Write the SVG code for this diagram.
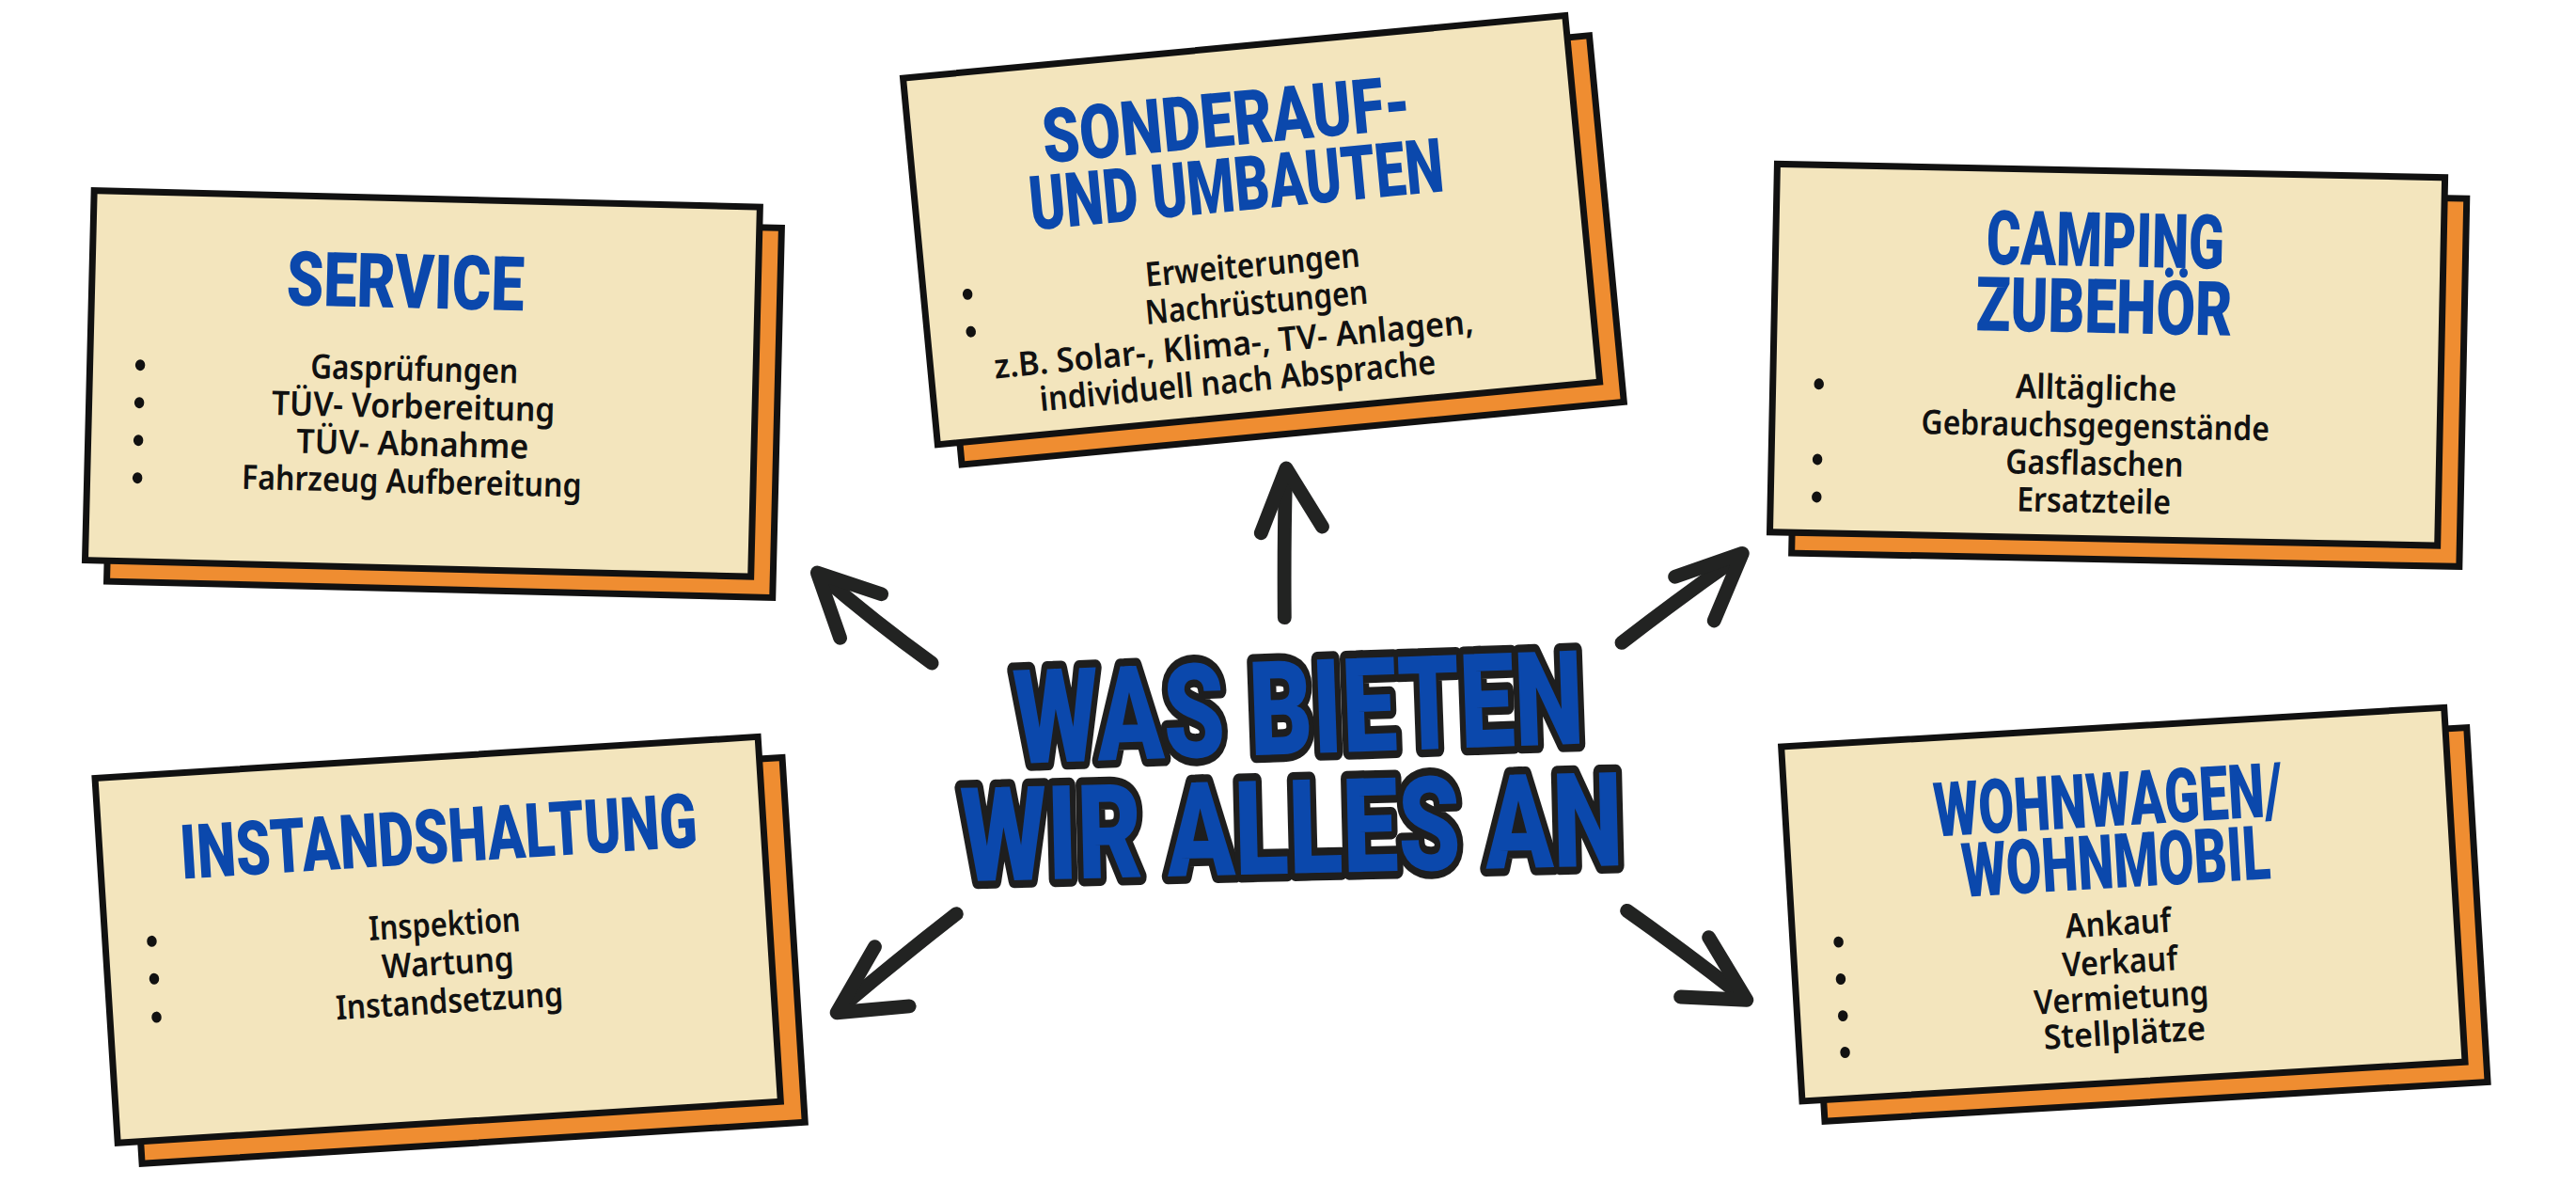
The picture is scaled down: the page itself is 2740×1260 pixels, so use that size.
<svg xmlns="http://www.w3.org/2000/svg" width="2740" height="1260" viewBox="0 0 2740 1260">
<style>
.back{fill:#EF8D31;stroke:#111;stroke-width:4;stroke-linejoin:miter}
.card{fill:#F3E5BD;stroke:#111;stroke-width:4;stroke-linejoin:miter}
.ttl{font-family:Roboto,"Liberation Sans",sans-serif;font-weight:900;font-size:46px;fill:#0B48AC;text-anchor:middle}
.itm{font-family:"Noto Sans","Liberation Sans",sans-serif;font-weight:600;font-size:20.5px;fill:#111;text-anchor:middle}
.dot{fill:#111}
.big{font-family:Roboto,"Liberation Sans",sans-serif;font-weight:900;font-size:80px;fill:#0B48AC;stroke:#1E1E1E;stroke-width:9.5;stroke-linejoin:round;paint-order:stroke;text-anchor:middle}
.arr{fill:none;stroke:#222322;stroke-width:8.5;stroke-linecap:round;stroke-linejoin:round}
</style>
<rect width="2740" height="1260" fill="#FFFFFF"/>
<g transform="scale(1.7474)">
<g id="connectors">
<path class="arr" d="M567.2,403.5 Q532,378 499.5,350"/>
<path class="arr" d="M536.6,361.5 L497.5,348.5 L511.4,388.2"/>
<path class="arr" d="M781.9,375.8 Q781.5,330 782.6,290"/>
<path class="arr" d="M767.6,324.3 L782.9,285 L804.9,320.5"/>
<path class="arr" d="M987.2,391.1 Q1022,364 1058,339"/>
<path class="arr" d="M1019.6,351 L1060.6,336.7 L1043.4,377.7"/>
<path class="arr" d="M582.2,556.1 Q545,585 512,613"/>
<path class="arr" d="M532.5,576.1 L509.4,616.2 L553.5,612.3"/>
<path class="arr" d="M990.4,554.2 Q1027,580 1060,606"/>
<path class="arr" d="M1040.2,570.4 L1063.2,608.5 L1023,606.6"/>
</g>
<g id="service" transform="translate(257.2,233.4) rotate(1.41)">
<rect class="back" x="-189.2" y="-100" width="405.4" height="225"/>
<rect class="card" x="-202.7" y="-112.5" width="405.4" height="225"/>
<text class="ttl" x="-11.9" y="-45.8" textLength="144.6" lengthAdjust="spacingAndGlyphs">SERVICE</text>
<text class="itm" x="-5.2" y="-1.6" textLength="126.5" lengthAdjust="spacingAndGlyphs">Gasprüfungen</text>
<text class="itm" x="-5.2" y="21.2" textLength="172.5" lengthAdjust="spacingAndGlyphs">TÜV- Vorbereitung</text>
<text class="itm" x="-5.2" y="44" textLength="141.3" lengthAdjust="spacingAndGlyphs">TÜV- Abnahme</text>
<text class="itm" x="-5.2" y="66.8" textLength="207" lengthAdjust="spacingAndGlyphs">Fahrzeug Aufbereitung</text>
<ellipse class="dot" cx="-172.1" cy="-7" rx="3" ry="3.4"/>
<ellipse class="dot" cx="-172.1" cy="15.9" rx="3" ry="3.4"/>
<ellipse class="dot" cx="-172.1" cy="38.8" rx="3" ry="3.4"/>
<ellipse class="dot" cx="-172.1" cy="61.7" rx="3" ry="3.4"/>
</g>
<g id="sonderauf" transform="translate(761.75,140) rotate(-5.4)">
<rect class="back" x="-188.9" y="-98.5" width="404.8" height="224"/>
<rect class="card" x="-202.4" y="-112" width="404.8" height="224"/>
<text class="ttl" x="-8.9" y="-52.4" textLength="225" lengthAdjust="spacingAndGlyphs">SONDERAUF-</text>
<text class="ttl" x="-6.6" y="-12.5" textLength="253" lengthAdjust="spacingAndGlyphs">UND UMBAUTEN</text>
<text class="itm" x="-1.4" y="28.3" textLength="131" lengthAdjust="spacingAndGlyphs">Erweiterungen</text>
<text class="itm" x="-1.1" y="51.2" textLength="136" lengthAdjust="spacingAndGlyphs">Nachrüstungen</text>
<text class="itm" x="-17.3" y="75.2" textLength="293" lengthAdjust="spacingAndGlyphs">z.B. Solar-, Klima-, TV- Anlagen,</text>
<text class="itm" x="-17" y="97.6" textLength="242" lengthAdjust="spacingAndGlyphs">individuell nach Absprache</text>
<ellipse class="dot" cx="-175.7" cy="22.6" rx="3" ry="3.4"/>
<ellipse class="dot" cx="-175.8" cy="45.5" rx="3" ry="3.4"/>
</g>
<g id="camping" transform="translate(1282.8,215.9) rotate(1.16)">
<rect class="back" x="-189.75" y="-99.5" width="406.5" height="224"/>
<rect class="card" x="-203.25" y="-112" width="406.5" height="224"/>
<text class="ttl" x="-2.6" y="-53.8" textLength="144.6" lengthAdjust="spacingAndGlyphs">CAMPING</text>
<text class="ttl" x="-2.6" y="-13.25" textLength="156" lengthAdjust="spacingAndGlyphs">ZUBEHÖR</text>
<text class="itm" x="-6.5" y="27.4" textLength="98" lengthAdjust="spacingAndGlyphs">Alltägliche</text>
<text class="itm" x="-6.5" y="50.3" textLength="212" lengthAdjust="spacingAndGlyphs">Gebrauchsgegenstände</text>
<text class="itm" x="-6.5" y="73.3" textLength="108.4" lengthAdjust="spacingAndGlyphs">Gasflaschen</text>
<text class="itm" x="-6.5" y="96.2" textLength="93.7" lengthAdjust="spacingAndGlyphs">Ersatzteile</text>
<ellipse class="dot" cx="-175.2" cy="21.3" rx="3" ry="3.4"/>
<ellipse class="dot" cx="-175.2" cy="67.2" rx="3" ry="3.4"/>
<ellipse class="dot" cx="-175.2" cy="90.1" rx="3" ry="3.4"/>
</g>
<g id="instandhaltung" transform="translate(266.5,571.9) rotate(-3.57)">
<rect class="back" x="-188.15" y="-97.7" width="404.3" height="222.4"/>
<rect class="card" x="-202.15" y="-111.2" width="404.3" height="222.4"/>
<text class="ttl" x="4.4" y="-46.7" textLength="315" lengthAdjust="spacingAndGlyphs">INSTANDSHALTUNG</text>
<text class="itm" x="4.7" y="-2.2" textLength="92.4" lengthAdjust="spacingAndGlyphs">Inspektion</text>
<text class="itm" x="5.2" y="21.4" textLength="80.4" lengthAdjust="spacingAndGlyphs">Wartung</text>
<text class="itm" x="4.7" y="44.7" textLength="138.6" lengthAdjust="spacingAndGlyphs">Instandsetzung</text>
<ellipse class="dot" cx="-173.8" cy="-10" rx="3" ry="3.4"/>
<ellipse class="dot" cx="-173.8" cy="12.9" rx="3" ry="3.4"/>
<ellipse class="dot" cx="-173.8" cy="36.3" rx="3" ry="3.4"/>
</g>
<g id="wohnwagen" transform="translate(1292.4,550.3) rotate(-3.39)">
<rect class="back" x="-189.1" y="-95" width="404.2" height="216"/>
<rect class="card" x="-202.1" y="-108" width="404.2" height="216"/>
<text class="ttl" x="-5.5" y="-48" textLength="212.5" lengthAdjust="spacingAndGlyphs">WOHNWAGEN/</text>
<text class="ttl" x="-2.9" y="-10.3" textLength="188" lengthAdjust="spacingAndGlyphs">WOHNMOBIL</text>
<text class="itm" x="-3.7" y="18.4" textLength="64.5" lengthAdjust="spacingAndGlyphs">Ankauf</text>
<text class="itm" x="-4.1" y="41.8" textLength="70.3" lengthAdjust="spacingAndGlyphs">Verkauf</text>
<text class="itm" x="-4.5" y="63.7" textLength="106.3" lengthAdjust="spacingAndGlyphs">Vermietung</text>
<text class="itm" x="-3.8" y="85.2" textLength="98.7" lengthAdjust="spacingAndGlyphs">Stellplätze</text>
<ellipse class="dot" cx="-174.3" cy="12.6" rx="3" ry="3.4"/>
<ellipse class="dot" cx="-174.3" cy="35.2" rx="3" ry="3.4"/>
<ellipse class="dot" cx="-174.3" cy="57.6" rx="3" ry="3.4"/>
<ellipse class="dot" cx="-174.3" cy="79.9" rx="3" ry="3.4"/>
</g>
<g id="title">
<text class="big" x="791.3" y="458.6" transform="rotate(-2 791.3 458.6)" textLength="347" lengthAdjust="spacingAndGlyphs">WAS BIETEN</text>
<text class="big" x="786.9" y="531.5" transform="rotate(-1.4 786.9 531.5)" textLength="403" lengthAdjust="spacingAndGlyphs">WIR ALLES AN</text>
</g>
</g>
</svg>
